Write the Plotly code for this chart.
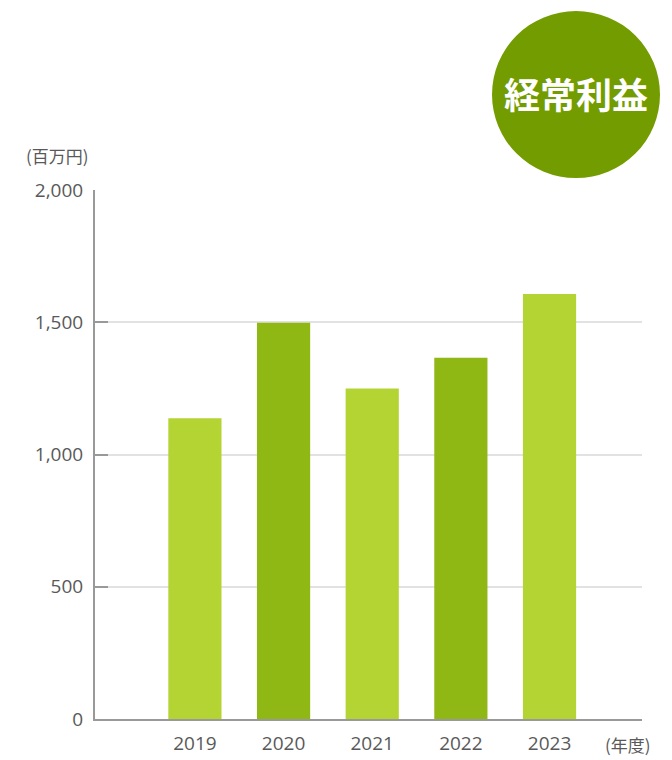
import plotly.graph_objects as go

years = [2019, 2020, 2021, 2022, 2023]
year_labels = ["2019", "2020", "2021", "2022", "2023"]
profit = [1137, 1498, 1250, 1366, 1607]  # 経常利益（百万円）
bar_colors = ["#b4d434", "#8fb814", "#b4d434", "#8fb814", "#b4d434"]

y_ticks = [0, 500, 1000, 1500, 2000]
y_tick_labels = ["0", "500", "1,000", "1,500", "2,000"]

font_jp = "Noto Sans CJK JP"
font_num = "Open Sans"
text_gray = "#595959"

fig = go.Figure()
fig.add_trace(go.Bar(
    x=years, y=profit,
    marker=dict(color=bar_colors, line=dict(width=0)),
    width=0.6,
    hoverinfo="x+y",
))

fig.update_layout(
    width=672, height=760,
    margin=dict(l=87, r=38, t=182, b=46),
    paper_bgcolor="white", plot_bgcolor="white",
    showlegend=False,
    font=dict(family=font_num, color=text_gray, size=19),
    xaxis=dict(
        range=[2017.873, 2024.043],
        tickvals=years, ticktext=year_labels,
        showgrid=False, zeroline=False,
        showline=True, linecolor="#999999", linewidth=2,
        ticks="", tickfont=dict(family=font_num, size=19, color=text_gray),
        ticklabelstandoff=6,
        fixedrange=True,
    ),
    yaxis=dict(
        range=[0, 2000],
        tickvals=y_ticks, ticktext=y_tick_labels,
        showgrid=True, gridcolor="#e2e2e2", gridwidth=2,
        zeroline=False,
        showline=True, linecolor="#999999", linewidth=2,
        ticks="inside", ticklen=13, tickwidth=2, tickcolor="#999999",
        tickfont=dict(family=font_num, size=19, color=text_gray),
        ticklabelstandoff=6,
        fixedrange=True,
    ),
)

# 見出しの丸
fig.add_shape(
    type="circle", xref="paper", yref="paper",
    x0=0.7258, x1=1.0329, y0=1.0226, y1=1.3383,
    fillcolor="#739c00", line=dict(width=0), layer="above",
)
fig.add_annotation(
    text="<b>経常利益</b>", xref="paper", yref="paper",
    x=0.8793, y=1.1833, xanchor="center", yanchor="middle",
    showarrow=False, font=dict(family=font_jp, size=36, color="white"),
)

fig.add_annotation(
    text="(百万円)", xref="paper", yref="paper",
    x=-0.0686, y=1.0658, xanchor="center", yanchor="middle",
    showarrow=False, font=dict(family=font_jp, size=17, color=text_gray),
)
fig.add_annotation(
    text="(年度)", xref="paper", yref="paper",
    x=0.9744, y=-0.0489, xanchor="center", yanchor="middle",
    showarrow=False, font=dict(family=font_jp, size=17, color=text_gray),
)

fig.write_html("out.html")
